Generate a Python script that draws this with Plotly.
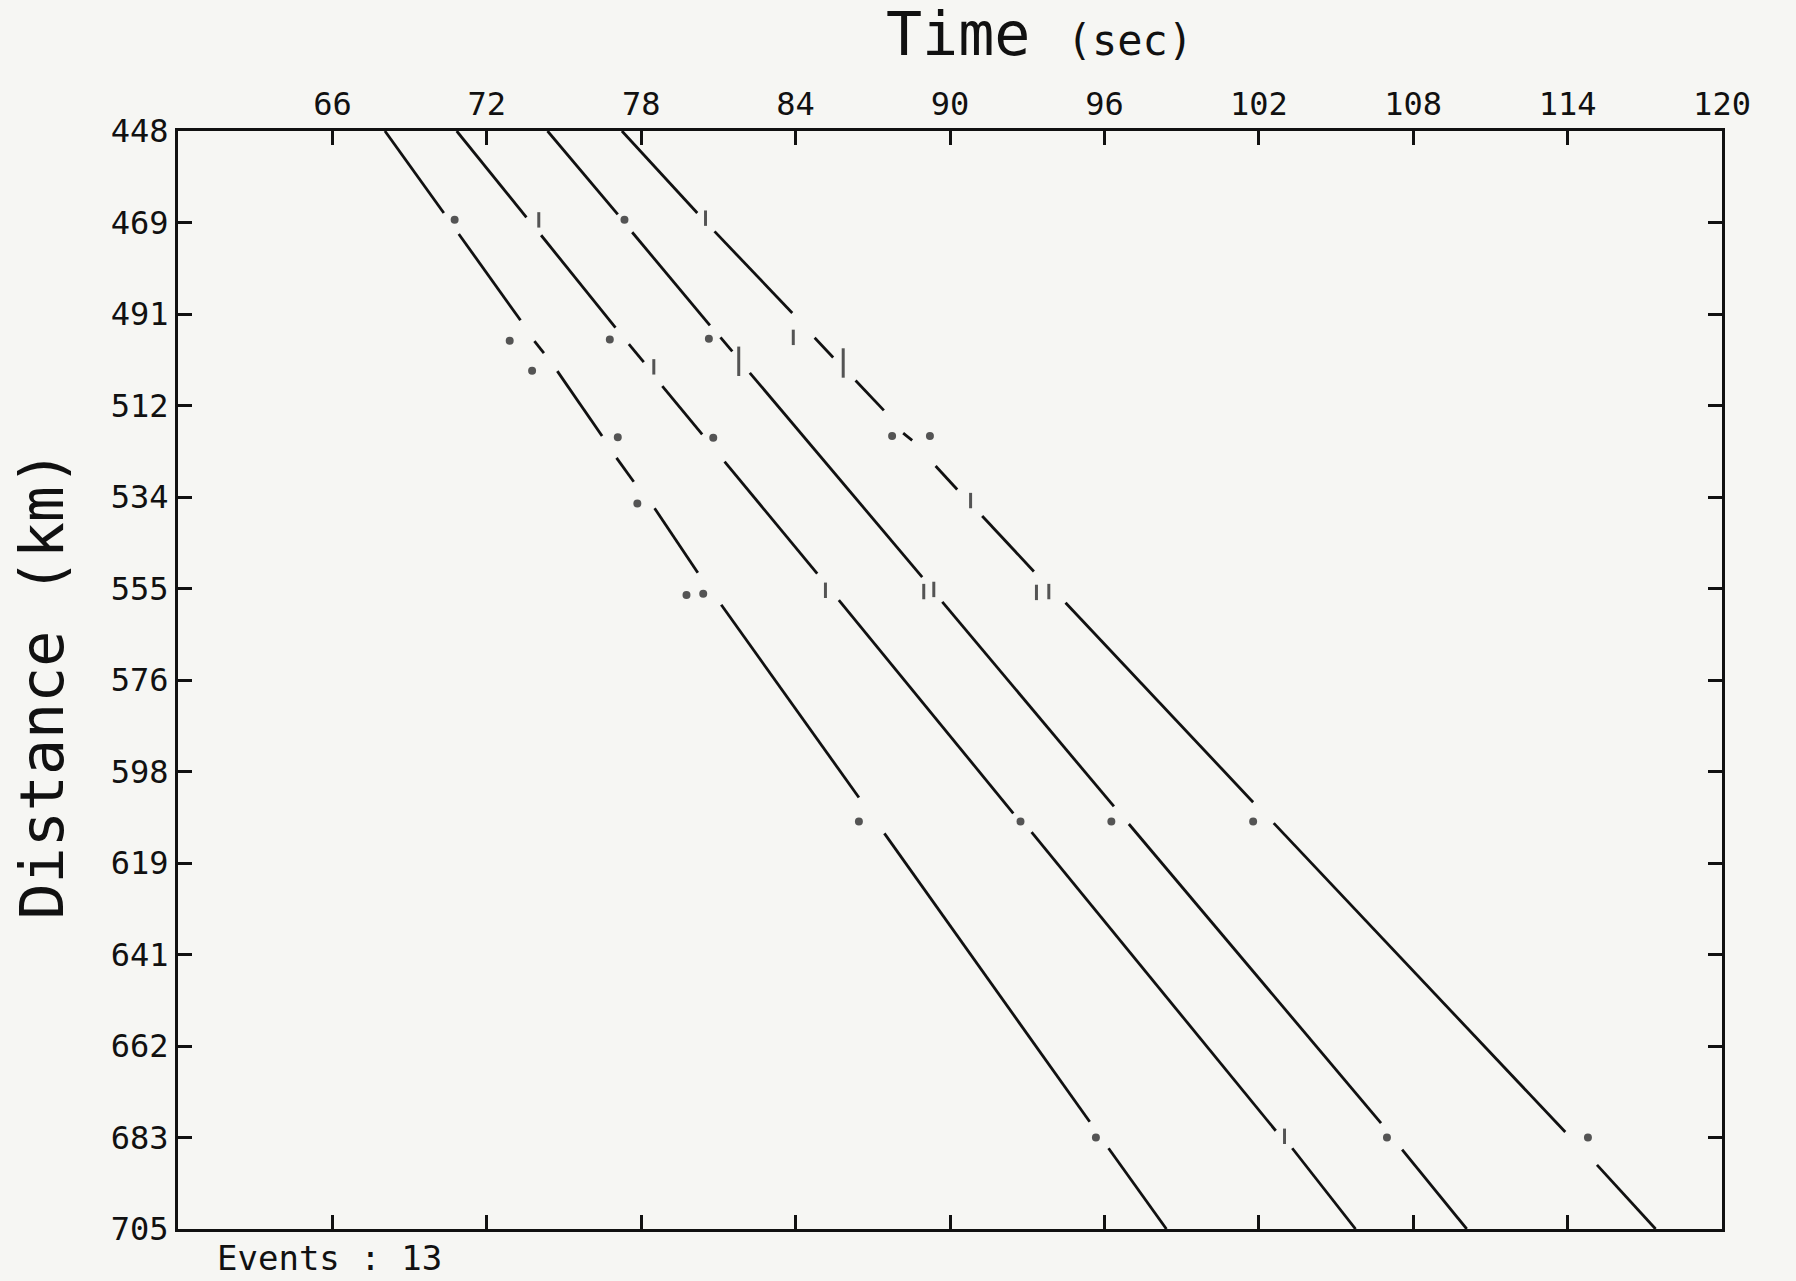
import plotly.graph_objects as go

# ---------------- data (time in s, distance in km) ----------------
time_ticks = [66, 72, 78, 84, 90, 96, 102, 108, 114, 120]
time_labels = ["66", "72", "78", "84", "90", "96", "102", "108", "114", "120"]
dist_labels = ["448", "469", "491", "512", "534", "555", "576",
               "598", "619", "641", "662", "683", "705"]
dist_min, dist_max = 448, 705
time_min, time_max = 60, 120

# phase 1 (leftmost line) segments
p1_t0 = [68.04, 70.91, 73.85, 74.74, 77.04, 78.52, 81.11, 87.45, 96.16]
p1_d0 = [448.0, 472.1, 497.2, 504.2, 524.5, 536.3, 558.9, 612.4, 686.1]
p1_t1 = [70.33, 73.31, 74.22, 76.48, 77.71, 80.20, 86.46, 95.43, 98.41]
p1_d1 = [467.2, 492.3, 500.0, 519.4, 530.1, 551.4, 604.0, 679.9, 705.0]
p1_pick_t = [70.75, 72.89, 73.76, 77.09, 77.85, 79.76, 80.41, 86.46, 95.67]
p1_pick_d = [468.8, 497.1, 504.1, 519.7, 535.2, 556.6, 556.3, 609.6, 683.6]
p1_pick_k = ["dot", "dot", "dot", "dot", "dot", "dot", "dot", "dot", "dot"]

# phase 2
p2_t0 = [70.83, 74.11, 77.52, 78.82, 81.24, 85.68, 93.17, 103.30]
p2_d0 = [448.0, 472.4, 497.9, 507.7, 525.4, 557.8, 612.1, 686.1]
p2_t1 = [73.54, 77.00, 78.10, 80.37, 84.84, 92.46, 102.66, 105.76]
p2_d1 = [468.2, 494.0, 502.1, 519.0, 551.6, 607.7, 682.0, 705.0]
p2_pick_t = [74.02, 76.78, 78.49, 80.80, 85.16, 92.74, 103.00]
p2_pick_d = [468.8, 496.8, 503.2, 519.8, 555.5, 609.6, 683.3]
p2_pick_k = ["tick", "dot", "tick", "dot", "tick", "dot", "tick"]

# phase 3
p3_t0 = [74.36, 77.65, 81.08, 82.22, 89.70, 96.95, 107.57]
p3_d0 = [448.0, 471.7, 496.3, 504.6, 558.2, 610.2, 686.4]
p3_t1 = [77.09, 80.67, 81.54, 88.92, 96.37, 106.75, 110.08]
p3_d1 = [467.5, 493.5, 499.6, 552.4, 606.1, 680.2, 705.0]
p3_pick_t = [77.35, 80.63, 81.79, 88.98, 89.37, 96.27, 106.98]
p3_pick_d = [468.8, 496.6, 501.9, 555.8, 555.3, 609.6, 683.6]
p3_pick_k = ["dot", "dot", "tall", "tick", "tick", "dot", "dot"]

# phase 4 (rightmost line)
p4_t0 = [77.25, 80.85, 84.74, 86.33, 88.18, 89.44, 91.25, 94.49, 102.58, 115.14]
p4_d0 = [448.0, 471.5, 496.4, 506.4, 518.7, 526.4, 538.1, 558.4, 610.0, 690.0]
p4_t1 = [80.18, 83.87, 85.46, 87.43, 88.53, 90.28, 93.26, 101.78, 113.91, 117.42]
p4_d1 = [467.2, 490.6, 501.0, 513.4, 520.4, 531.9, 551.1, 605.1, 682.3, 705.0]
p4_pick_t = [80.50, 83.91, 85.85, 87.75, 89.22, 90.80, 93.36, 93.84, 101.78, 114.79]
p4_pick_d = [468.4, 496.3, 502.3, 519.4, 519.4, 534.5, 556.0, 555.8, 609.6, 683.6]
p4_pick_k = ["tick", "tick", "tall", "dot", "dot", "tick", "tick", "tick", "dot", "dot"]

events_text = "Events : 13"

# ---------------- styles ----------------
INK = "#111111"
PAPER = "#f6f6f3"
FONT = "DejaVu Sans Mono"
pick_style = {"dot": ("circle", 5), "tick": ("line-ns", 11), "tall": ("line-ns", 21)}

phases = [
    (p1_t0, p1_d0, p1_t1, p1_d1, p1_pick_t, p1_pick_d, p1_pick_k),
    (p2_t0, p2_d0, p2_t1, p2_d1, p2_pick_t, p2_pick_d, p2_pick_k),
    (p3_t0, p3_d0, p3_t1, p3_d1, p3_pick_t, p3_pick_d, p3_pick_k),
    (p4_t0, p4_d0, p4_t1, p4_d1, p4_pick_t, p4_pick_d, p4_pick_k),
]

fig = go.Figure()
for t0, d0, t1, d1, pt, pd, pk in phases:
    xs, ys = [], []
    for a, b, c, d in zip(t0, d0, t1, d1):
        xs += [a, c, None]
        ys += [b, d, None]
    fig.add_trace(go.Scatter(x=xs, y=ys, mode="lines",
                             line=dict(color=INK, width=2.8),
                             hoverinfo="skip", showlegend=False))
    fig.add_trace(go.Scatter(
        x=pt, y=pd, mode="markers",
        marker=dict(symbol=[pick_style[k][0] for k in pk],
                    size=[pick_style[k][1] for k in pk],
                    color=INK, line=dict(color=INK, width=3)),
        hoverinfo="skip", showlegend=False))

n = len(dist_labels)
dist_ticks = [dist_min + i * (dist_max - dist_min) / (n - 1) for i in range(n)]

axis_common = dict(showline=True, linewidth=3, linecolor=INK, mirror="ticks",
                   ticks="inside", ticklen=14, tickwidth=3, tickcolor=INK,
                   showgrid=False, zeroline=False,
                   tickfont=dict(family=FONT, size=32, color=INK))

fig.update_layout(
    width=1796, height=1281,
    margin=dict(l=178, r=74, t=131, b=52),
    paper_bgcolor=PAPER, plot_bgcolor=PAPER,
    showlegend=False,
    xaxis=dict(range=[time_min, time_max], side="top",
               tickvals=time_ticks, ticktext=time_labels, **axis_common),
    yaxis=dict(range=[dist_max, dist_min], tickvals=dist_ticks,
               ticktext=dist_labels, **axis_common),
    annotations=[
        dict(text="Time <span style='font-size:42px'>(sec)</span>",
             xref="paper", yref="paper", x=0.558, y=1.088,
             xanchor="center", yanchor="middle", showarrow=False,
             font=dict(family=FONT, size=60, color=INK)),
        dict(text="Distance (km)", textangle=-90,
             xref="paper", yref="paper", x=-0.088, y=0.496,
             xanchor="center", yanchor="middle", showarrow=False,
             font=dict(family=FONT, size=60, color=INK)),
        dict(text=events_text, xref="paper", yref="paper",
             x=0.024, y=-0.026, xanchor="left", yanchor="middle",
             showarrow=False, font=dict(family=FONT, size=34, color=INK)),
    ],
)

fig.write_html("out.html")
